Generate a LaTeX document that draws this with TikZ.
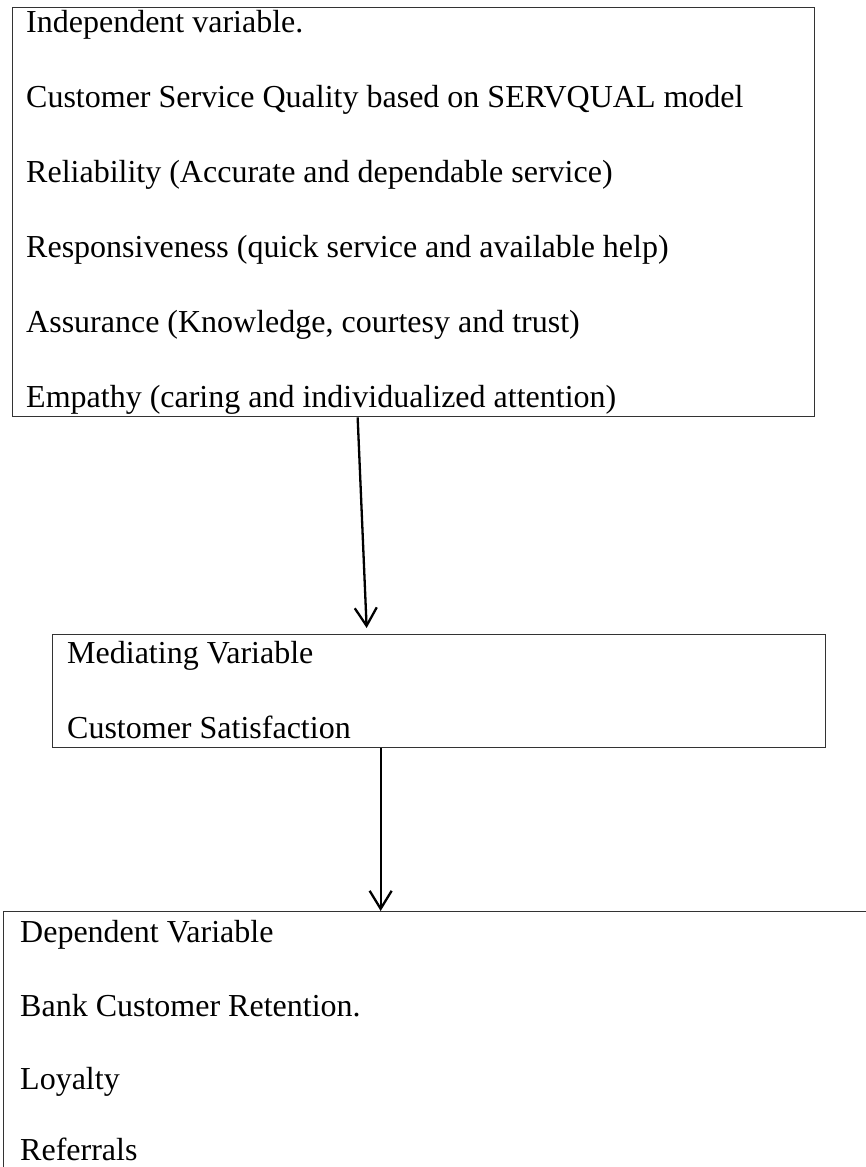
\documentclass[tikz,border=0pt]{standalone}
\usepackage{fontspec}
\setmainfont{Liberation Serif}
\usetikzlibrary{arrows.meta}
\begin{document}
\begin{tikzpicture}[x=1pt,y=-1pt,
  box/.style={draw=black!80, line width=1.3pt, rectangle, inner sep=0pt, anchor=north west},
  txt/.style={anchor=base west, inner sep=0pt, font=\fontsize{32}{38}\selectfont},
  arr/.style={line width=2.3pt, -{Straight Barb[length=18pt,width=22pt,line width=2.3pt]}}]
\useasboundingbox (0,0) rectangle (866,1167);
\clip (0,0) rectangle (866,1167);
% boxes
\node[box, minimum width=802pt, minimum height=409pt] (b1) at (12,7) {};
\node[box, minimum width=773pt, minimum height=113pt] (b2) at (52,634) {};
\node[box, minimum width=900pt, minimum height=320pt] (b3) at (3,911) {};
% box 1 texts
\node[txt] (t11) at (26,32) {Independent variable.};
\node[txt] (t12) at (26,107) {Customer Service Quality based on SERVQUAL model};
\node[txt] (t13) at (26,182) {Reliability (Accurate and dependable service)};
\node[txt] (t14) at (26,257) {Responsiveness (quick service and available help)};
\node[txt] (t15) at (26,332) {Assurance (Knowledge, courtesy and trust)};
\node[txt] (t16) at (26,407) {Empathy (caring and individualized attention)};
% box 2 texts
\node[txt] (t21) at (67,663) {Mediating Variable};
\node[txt] (t22) at (67,738) {Customer Satisfaction};
% box 3 texts
\node[txt] (t31) at (20,942) {Dependent Variable};
\node[txt] (t32) at (20,1016) {Bank Customer Retention.};
\node[txt] (t33) at (20,1089) {Loyalty};
\node[txt] (t34) at (20,1160) {Referrals};
% connectors
\draw[arr] ([xshift=-56pt]b1.south) -- ([xshift=-72.5pt,yshift=6pt]b2.north);
\draw[arr] ([xshift=-58.5pt]b2.south) -- ([xshift=-73pt]b3.north);
\end{tikzpicture}
\end{document}
